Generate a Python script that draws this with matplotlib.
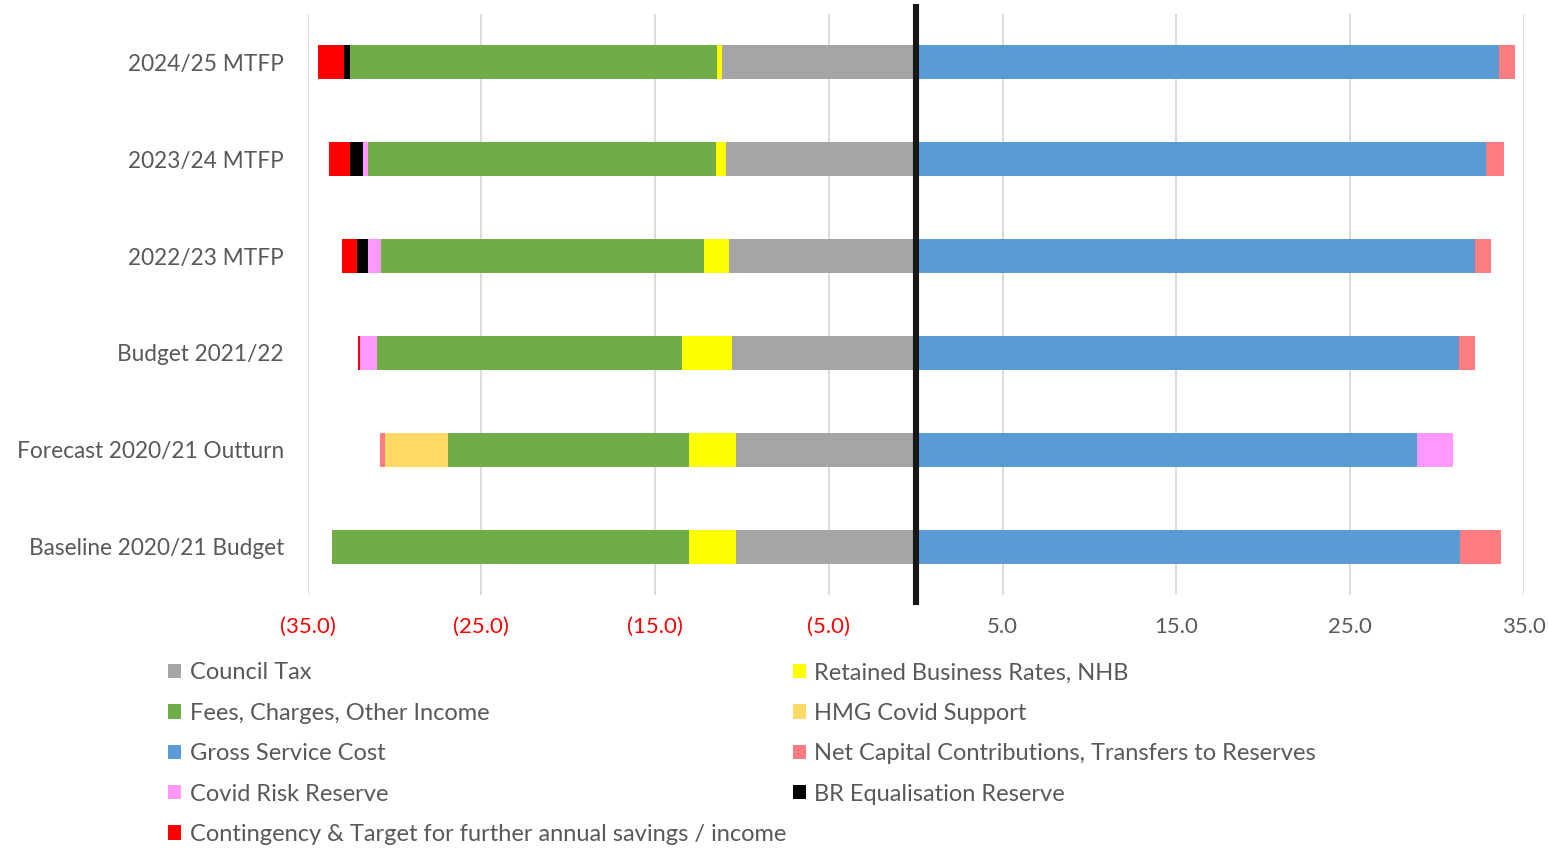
import numpy as np
import matplotlib
matplotlib.use('Agg')
import matplotlib.pyplot as plt
from matplotlib.patches import Patch

plt.rcParams['font.family'] = ['Lato', 'DejaVu Sans']

# categories, bottom to top
categories = ['Baseline 2020/21 Budget', 'Forecast 2020/21 Outturn', 'Budget 2021/22',
              '2022/23 MTFP', '2023/24 MTFP', '2024/25 MTFP']

# values (negative = income side)
council_tax = [-10.36, -10.36, -10.55, -10.74, -10.91, -11.15]
retained_br = [-2.70, -2.70, -2.88, -1.42, -0.56, -0.27]
fees = [-20.51, -13.85, -17.55, -18.61, -20.04, -21.13]
hmg_covid = [0, -3.61, 0, 0, 0, 0]
gross_cost = [31.33, 28.84, 31.26, 32.18, 32.81, 33.56]
net_capital = [2.33, -0.28, 0.92, 0.92, 1.04, 0.93]
covid_risk = [0, 2.06, -1.01, -0.76, -0.31, 0]
br_equal = [0, 0, 0, -0.62, -0.73, -0.36]
contingency = [0, 0, -0.10, -0.86, -1.21, -1.48]

series = [
    ('Council Tax', council_tax, '#A5A5A5'),
    ('Retained Business Rates, NHB', retained_br, '#FFFF00'),
    ('Fees, Charges, Other Income', fees, '#70AD47'),
    ('HMG Covid Support', hmg_covid, '#FFD966'),
    ('Gross Service Cost', gross_cost, '#5B9BD5'),
    ('Net Capital Contributions, Transfers to Reserves', net_capital, '#FF7C80'),
    ('Covid Risk Reserve', covid_risk, '#FF99FF'),
    ('BR Equalisation Reserve', br_equal, '#000000'),
    ('Contingency & Target for further annual savings / income', contingency, '#FF0000'),
]

ticks = [-35, -25, -15, -5, 5, 15, 25, 35]
tick_labels = ['(35.0)', '(25.0)', '(15.0)', '(5.0)', '5.0', '15.0', '25.0', '35.0']

fig = plt.figure(figsize=(15.48, 8.48), dpi=100)
ax = fig.add_axes([307.5 / 1548, 1 - 595 / 848, (1524 - 307.5) / 1548, 581 / 848])

y = np.arange(len(categories))
pos_base = np.zeros(len(categories))
neg_base = np.zeros(len(categories))
handles = {}
for name, vals, col in series:
    v = np.array(vals, dtype=float)
    left = np.where(v >= 0, pos_base, neg_base)
    ax.barh(y, v, left=left, height=0.35, color=col, zorder=3)
    pos_base += np.clip(v, 0, None)
    neg_base += np.clip(v, None, 0)
    handles[name] = Patch(facecolor=col)

ax.set_xlim(-35, 35)
ax.set_ylim(-0.5, len(categories) - 0.5)
ax.set_xticks(ticks, tick_labels)
ax.set_yticks(y, categories)
for lab, t in zip(ax.get_xticklabels(), ticks):
    lab.set_color('#FF0000' if t < 0 else '#595959')
ax.tick_params(axis='x', length=0, pad=16, labelsize=16)
ax.tick_params(axis='y', length=0, pad=17, labelsize=16.3, labelcolor='#595959')
for s in ax.spines.values():
    s.set_visible(False)
ax.grid(axis='x', color='#D9D9D9', linewidth=1.3, zorder=0)

# thick zero line, a bit longer than the plot area
ax.axvline(0, ymin=-7 / 581, ymax=1 + 7 / 581, color='#171717', linewidth=4.4,
           clip_on=False, zorder=5)

# legend, filled row by row like the original
order = ['Council Tax', 'Fees, Charges, Other Income', 'Gross Service Cost',
         'Covid Risk Reserve', 'Contingency & Target for further annual savings / income',
         'Retained Business Rates, NHB', 'HMG Covid Support',
         'Net Capital Contributions, Transfers to Reserves', 'BR Equalisation Reserve']
leg = fig.legend([handles[n] for n in order], order, ncol=2,
                 loc='upper left', bbox_to_anchor=(159 / 1548, 1 - 653 / 848),
                 frameon=False, fontsize=17, labelcolor='#595959',
                 handlelength=0.55, handleheight=0.55, handletextpad=0.35,
                 labelspacing=0.82, columnspacing=0.28, borderaxespad=0)

fig.savefig('out.png', dpi=100)
